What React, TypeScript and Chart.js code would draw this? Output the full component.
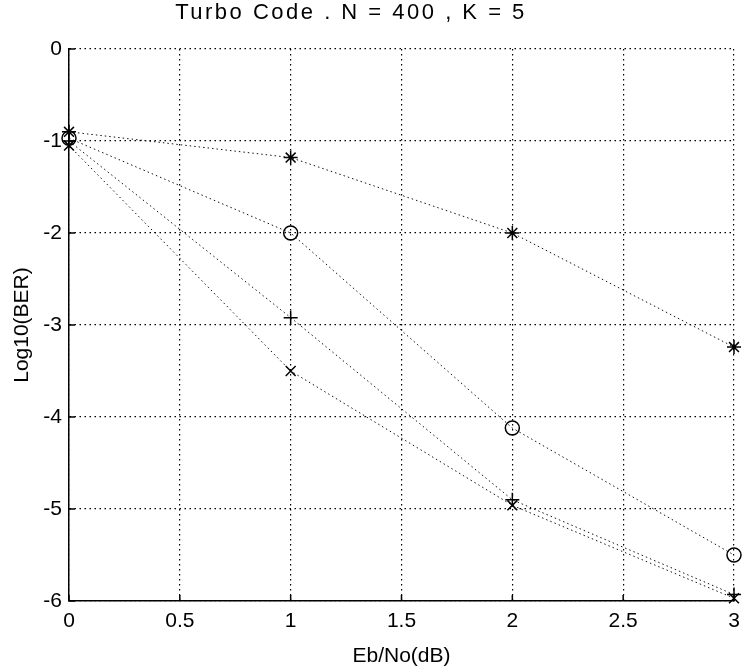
import React, { useEffect, useRef } from "react";
import Chart from "chart.js/auto";

const ebNo = [0, 1, 2, 3];
const berStar = [-0.9, -1.18, -2.0, -3.24];
const berCircle = [-0.97, -2.0, -4.12, -5.5];
const berPlus = [-1.0, -2.92, -4.9, -5.93];
const berCross = [-1.05, -3.5, -4.96, -5.97];
const titleText = "Turbo Code . N = 400 , K = 5";
const xTitle = "Eb/No(dB)";
const yTitle = "Log10(BER)";

const FONT = "'Liberation Sans', Arial, Helvetica, sans-serif";

const toPts = (ys: number[]) => ebNo.map((x, i) => ({ x, y: ys[i] }));

export default function App() {
  const ref = useRef<HTMLCanvasElement | null>(null);
  useEffect(() => {
    document.body.style.margin = "0";
    const canvas = ref.current!;
    const mkDs = (data: number[], style: string) => ({
      data: toPts(data),
      borderColor: "#111",
      backgroundColor: "rgba(0,0,0,0)",
      borderWidth: 1,
      borderDash: [1.5, 3],
      pointStyle: style,
      pointRadius: 7,
      pointBorderWidth: 1.5,
      pointBorderColor: "#000",
      pointBackgroundColor: "rgba(0,0,0,0)",
      showLine: true,
      tension: 0,
      clip: false,
    });
    const titlePlugin = {
      id: "customTitle",
      afterDraw(chart: any) {
        const ctx = chart.ctx;
        ctx.save();
        ctx.fillStyle = "#000";
        ctx.font = `22px ${FONT}`;
        (ctx as any).letterSpacing = "2.5px";
        ctx.textAlign = "center";
        ctx.textBaseline = "middle";
        ctx.fillText(titleText, 351, 13);
        ctx.restore();
      },
    };
    const inwardTicks = {
      id: "inwardTicks",
      afterDraw(chart: any) {
        const ctx = chart.ctx;
        const xs = chart.scales.x;
        const ys = chart.scales.y;
        const a = chart.chartArea;
        ctx.save();
        ctx.strokeStyle = "#000";
        ctx.lineWidth = 1.5;
        ctx.beginPath();
        xs.ticks.forEach((t: any) => {
          const px = xs.getPixelForValue(t.value);
          ctx.moveTo(px, a.bottom);
          ctx.lineTo(px, a.bottom - 6);
        });
        ys.ticks.forEach((t: any) => {
          const py = ys.getPixelForValue(t.value);
          ctx.moveTo(a.left, py);
          ctx.lineTo(a.left + 6, py);
        });
        ctx.stroke();
        ctx.restore();
      },
    };
    const chart = new Chart(canvas, {
      type: "scatter",
      data: {
        datasets: [
          mkDs(berStar, "star"),
          mkDs(berCircle, "circle"),
          mkDs(berPlus, "cross"),
          mkDs(berCross, "crossRot"),
        ] as any,
      },
      options: {
        animation: false,
        responsive: false,
        layout: { padding: { top: 49, right: 10, left: 0, bottom: 0 } },
        plugins: {
          legend: { display: false },
          title: { display: false },
          tooltip: { enabled: false },
        },
        scales: {
          x: {
            type: "linear",
            min: 0,
            max: 3,
            ticks: {
              stepSize: 0.5,
              color: "#000",
              font: { family: FONT, size: 21 },
              padding: 8,
              maxRotation: 0,
              callback: (v: any) => String(Number(v)),
            },
            grid: {
              color: "#000",
              lineWidth: 1.2,
              drawTicks: false,
            },
            border: { display: true, color: "#000", width: 1.5, dash: [1.5, 3.5] },
            title: {
              display: true,
              text: xTitle,
              color: "#000",
              font: { family: FONT, size: 21 },
              padding: { top: 0, bottom: 2 },
            },
            afterFit(scale: any) {
              scale.height = 70;
              scale.paddingRight = 0;
              scale.paddingLeft = 0;
            },
          },
          y: {
            type: "linear",
            min: -6,
            max: 0,
            ticks: {
              stepSize: 1,
              color: "#000",
              font: { family: FONT, size: 21 },
              padding: 7,
            },
            grid: {
              color: "#000",
              lineWidth: 1.2,
              drawTicks: false,
            },
            border: { display: true, color: "#000", width: 1.5, dash: [1.5, 3.5] },
            title: {
              display: true,
              text: yTitle,
              color: "#000",
              font: { family: FONT, size: 21 },
              padding: { top: 10, bottom: 0 },
            },
            afterFit(scale: any) {
              scale.width = 69;
            },
          },
        },
      } as any,
      plugins: [titlePlugin, inwardTicks],
    });
    return () => chart.destroy();
  }, []);
  return (
    <div style={{ width: 744, height: 671 }}>
      <canvas ref={ref} width={744} height={671} />
    </div>
  );
}
